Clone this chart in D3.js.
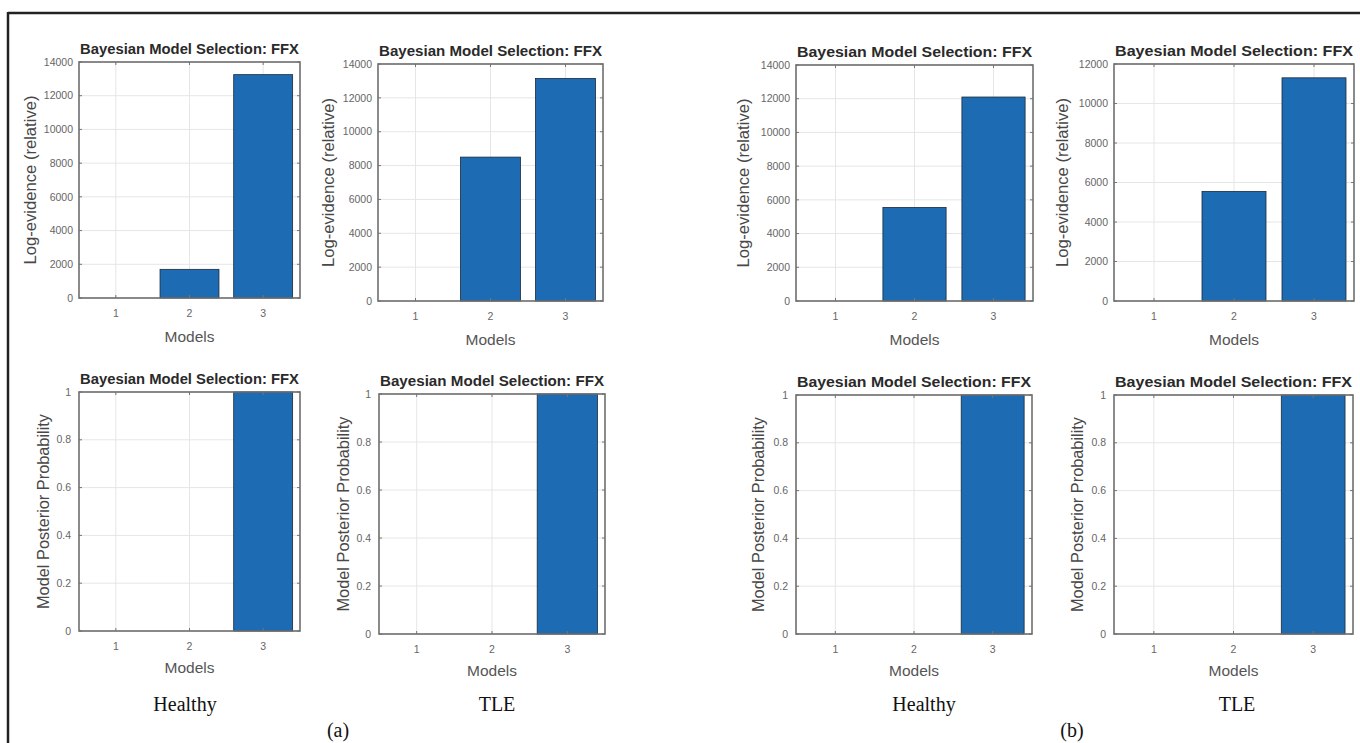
<!DOCTYPE html>
<html>
<head>
<meta charset="utf-8">
<script src="https://cdn.jsdelivr.net/npm/d3@7"></script>
<style>
  body { margin: 0; background: #fff; }
  svg { display: block; }
</style>
</head>
<body>
<svg id="fig" width="1360" height="743"></svg>
<script>
// ---- data ----
var models      = [1, 2, 3];
var evHealthyA  = [0, 1700, 13250];
var evTleA      = [0, 8500, 13150];
var evHealthyB  = [0, 5550, 12100];
var evTleB      = [0, 5550, 11300];
var ppHealthyA  = [0, 0, 1];
var ppTleA      = [0, 0, 1];
var ppHealthyB  = [0, 0, 1];
var ppTleB      = [0, 0, 1];
var evTicks14   = [0, 2000, 4000, 6000, 8000, 10000, 12000, 14000];
var evTicks12   = [0, 2000, 4000, 6000, 8000, 10000, 12000];
var ppTicks     = [0, 0.2, 0.4, 0.6, 0.8, 1];
var titleText   = "Bayesian Model Selection: FFX";
var captions    = ["Healthy", "TLE", "Healthy", "TLE"];
var parts       = ["(a)", "(b)"];

// ---- layout (plot boxes) ----
var panels = [
  {L: 79,   R: 300,  T: 62,  B: 298, vals: evHealthyA, ticks: evTicks14, ylab: "Log-evidence (relative)", off: 49},
  {L: 378,  R: 603,  T: 64,  B: 301, vals: evTleA,     ticks: evTicks14, ylab: "Log-evidence (relative)", off: 50},
  {L: 796,  R: 1033, T: 65,  B: 301, vals: evHealthyB, ticks: evTicks14, ylab: "Log-evidence (relative)", off: 53},
  {L: 1114, R: 1354, T: 64,  B: 301, vals: evTleB,     ticks: evTicks12, ylab: "Log-evidence (relative)", off: 52},
  {L: 79,   R: 300,  T: 392, B: 631, vals: ppHealthyA, ticks: ppTicks,   ylab: "Model Posterior Probability", off: 36},
  {L: 379,  R: 605,  T: 394, B: 634, vals: ppTleA,     ticks: ppTicks,   ylab: "Model Posterior Probability", off: 36},
  {L: 796,  R: 1032, T: 395, B: 634, vals: ppHealthyB, ticks: ppTicks,   ylab: "Model Posterior Probability", off: 38},
  {L: 1114, R: 1353, T: 395, B: 634, vals: ppTleB,     ticks: ppTicks,   ylab: "Model Posterior Probability", off: 37}
];

var svg = d3.select("#fig");
var sans = "'Liberation Sans', Arial, sans-serif";
var serif = "'Liberation Serif', 'Times New Roman', serif";

// outer frame (only left and top edges show)
svg.append("line").attr("x1", 8).attr("y1", 13).attr("x2", 1360).attr("y2", 13)
   .attr("stroke", "#222").attr("stroke-width", 2.5);
svg.append("line").attr("x1", 8).attr("y1", 12).attr("x2", 8).attr("y2", 743)
   .attr("stroke", "#222").attr("stroke-width", 2.5);

panels.forEach(function(p){ drawPanel(p); });

// captions under each column
var capX = [185, 497, 924, 1237];
captions.forEach(function(c, i){
  svg.append("text").attr("x", capX[i]).attr("y", 711)
     .attr("text-anchor", "middle").attr("font-family", serif)
     .attr("font-size", 20).attr("fill", "#111").text(c);
});
var partX = [338, 1072];
parts.forEach(function(c, i){
  svg.append("text").attr("x", partX[i]).attr("y", 737)
     .attr("text-anchor", "middle").attr("font-family", serif)
     .attr("font-size", 20).attr("fill", "#111").text(c);
});

/*******************************************************************************
                                Helper Functions
*******************************************************************************/

function drawPanel(p){
  var g = svg.append("g");
  var x = d3.scaleLinear().domain([0.5, 3.5]).range([p.L, p.R]);
  var ymax = p.ticks[p.ticks.length - 1];
  var y = d3.scaleLinear().domain([0, ymax]).range([p.B, p.T]);
  var bw = (x(1) - x(0.5)) * 2 * 0.8;
  var isProb = ymax === 1;

  // grid
  g.selectAll(".gy").data(p.ticks).enter().append("line")
   .attr("x1", p.L).attr("x2", p.R)
   .attr("y1", function(d){ return y(d); }).attr("y2", function(d){ return y(d); })
   .attr("stroke", "#e6e6e6").attr("stroke-width", 1);
  g.selectAll(".gx").data(models).enter().append("line")
   .attr("x1", function(d){ return x(d); }).attr("x2", function(d){ return x(d); })
   .attr("y1", p.T).attr("y2", p.B)
   .attr("stroke", "#e6e6e6").attr("stroke-width", 1);

  // bars
  g.selectAll(".bar").data(p.vals).enter().append("rect")
   .attr("x", function(d, i){ return x(models[i]) - bw / 2; })
   .attr("y", function(d){ return y(d); })
   .attr("width", bw)
   .attr("height", function(d){ return p.B - y(d); })
   .attr("fill", "#1d6bb2")
   .attr("stroke", function(d){ return d > 0 ? "#1b2a3a" : "none"; })
   .attr("stroke-width", 0.8);

  // inward ticks on all four sides
  var tk = 3;
  p.ticks.forEach(function(d){
    g.append("line").attr("x1", p.L).attr("x2", p.L + tk).attr("y1", y(d)).attr("y2", y(d))
     .attr("stroke", "#777");
    g.append("line").attr("x1", p.R).attr("x2", p.R - tk).attr("y1", y(d)).attr("y2", y(d))
     .attr("stroke", "#777");
  });
  models.forEach(function(d){
    g.append("line").attr("x1", x(d)).attr("x2", x(d)).attr("y1", p.B).attr("y2", p.B - tk)
     .attr("stroke", "#777");
    g.append("line").attr("x1", x(d)).attr("x2", x(d)).attr("y1", p.T).attr("y2", p.T + tk)
     .attr("stroke", "#777");
  });

  // box
  g.append("rect").attr("x", p.L).attr("y", p.T)
   .attr("width", p.R - p.L).attr("height", p.B - p.T)
   .attr("fill", "none").attr("stroke", "#6e6e6e").attr("stroke-width", 1.6);

  // tick labels
  g.selectAll(".yl").data(p.ticks).enter().append("text")
   .attr("x", p.L - (isProb ? 8 : 6))
   .attr("y", function(d){ return y(d); })
   .attr("dy", "0.35em")
   .attr("text-anchor", "end")
   .attr("font-family", sans).attr("font-size", 10.5).attr("fill", "#666")
   .text(function(d){ return String(d); });
  g.selectAll(".xl").data(models).enter().append("text")
   .attr("x", function(d){ return x(d); })
   .attr("y", p.B + 15)
   .attr("dy", "0.35em")
   .attr("text-anchor", "middle")
   .attr("font-family", sans).attr("font-size", 10.5).attr("fill", "#666")
   .text(function(d){ return d; });

  // title
  g.append("text").attr("x", (p.L + p.R) / 2).attr("y", p.T - 8)
   .attr("text-anchor", "middle")
   .attr("font-family", sans).attr("font-size", 14.5).attr("font-weight", "bold")
   .attr("fill", "#2a2a2a")
   .attr("textLength", p.R - p.L - 2).attr("lengthAdjust", "spacingAndGlyphs")
   .text(titleText);

  // axis labels
  g.append("text").attr("x", (p.L + p.R) / 2).attr("y", p.B + (isProb ? 37 : 39))
   .attr("dy", "0.35em").attr("text-anchor", "middle")
   .attr("font-family", sans).attr("font-size", 15.5).attr("fill", "#555")
   .text("Models");
  var cy = (p.T + p.B) / 2;
  g.append("text")
   .attr("transform", "translate(" + (p.L - p.off) + "," + cy + ") rotate(-90)")
   .attr("dy", "0.35em").attr("text-anchor", "middle")
   .attr("font-family", sans).attr("font-size", 16).attr("fill", "#484848")
   .attr("textLength", isProb ? 195 : 169).attr("lengthAdjust", "spacingAndGlyphs")
   .text(p.ylab);
}
</script>
</body>
</html>
